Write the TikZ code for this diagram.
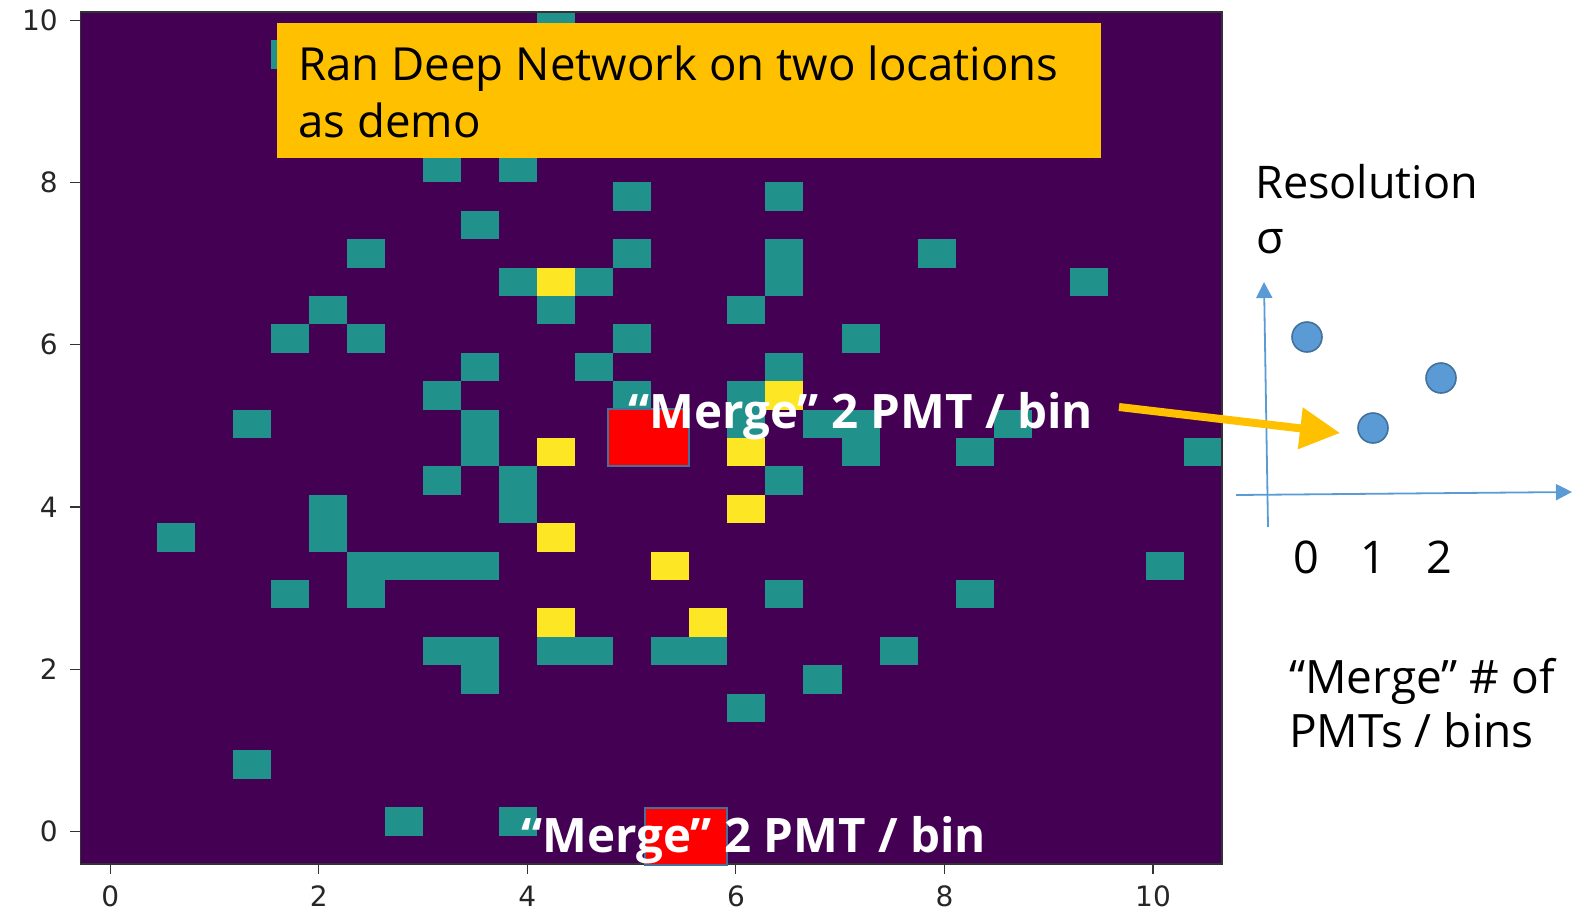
\documentclass[tikz,border=0pt]{standalone}
\usepackage{fontspec}
\setmainfont{Open Sans}
\newfontfamily\tickfont{DejaVu Sans}
\usetikzlibrary{arrows.meta}

\definecolor{vpurple}{HTML}{440154}
\definecolor{vteal}{HTML}{21918C}
\definecolor{vyellow}{HTML}{FDE725}
\definecolor{boxyellow}{HTML}{FFC000}
\definecolor{axisblue}{HTML}{5B9BD5}
\definecolor{dotedge}{HTML}{41719C}
\definecolor{binedge}{HTML}{4A6E96}

\tikzset{
  tickmark/.style={draw=black!80, line width=1.1},
  ticklabel/.style={inner sep=0, text=black!85, font=\tickfont\fontsize{28}{28}\selectfont},
  boxtext/.style={anchor=base west, inner sep=0, font=\fontsize{45.6}{57}\selectfont},
  sidetext/.style={anchor=base west, inner sep=0, font=\fontsize{45}{55}\selectfont},
  mergetext/.style={anchor=base west, inner sep=0, text=white, font=\bfseries\fontsize{47.5}{50}\selectfont},
  bin/.style={fill=red, draw=binedge, line width=1.6},
  axisline/.style={draw=axisblue, line width=1.8, -{Triangle[length=16pt,width=16pt]}},
  dot/.style={circle, minimum size=30, inner sep=0, fill=axisblue, draw=dotedge, line width=1.6},
  bigarrow/.style={draw=boxyellow, line width=8, -{Triangle[length=40pt,width=40pt]}}
}

\begin{document}
\begin{tikzpicture}[x=1pt, y=-1pt]
\useasboundingbox (0,0) rectangle (1588,913);

% heat map background and cells (30 x 30 grid)
\fill[vpurple] (80.7,12) rectangle (1222,864);
\foreach \c/\r in {12/0, 5/1, 9/5, 11/5, 14/6, 18/6, 10/7,
  7/8, 14/8, 18/8, 22/8, 11/9, 13/9, 18/9, 26/9,
  6/10, 12/10, 17/10, 5/11, 7/11, 14/11, 20/11,
  10/12, 13/12, 18/12, 9/13, 14/13, 17/13,
  4/14, 10/14, 17/14, 19/14, 20/14, 24/14,
  10/15, 20/15, 23/15, 29/15, 9/16, 11/16, 18/16,
  6/17, 11/17, 2/18, 6/18,
  7/19, 8/19, 9/19, 10/19, 28/19, 5/20, 7/20, 18/20, 23/20,
  9/22, 10/22, 12/22, 13/22, 15/22, 16/22, 21/22,
  10/23, 19/23, 17/24, 4/26, 8/28, 11/28}
  \fill[vteal] ({80.7+38.04*\c},{12+28.4*\r}) rectangle ++(38.04,28.4);
\foreach \c/\r in {12/9, 18/13, 12/15, 17/15, 17/17, 12/18, 15/19, 12/21, 16/21}
  \fill[vyellow] ({80.7+38.04*\c},{12+28.4*\r}) rectangle ++(38.04,28.4);
\draw[black!80, line width=1.2] (80.7,12) rectangle (1222,864);

% axis ticks and labels
\foreach \v/\yy in {10/20.3, 8/182.5, 6/344.8, 4/507, 2/669.3, 0/831.5} {
  \draw[tickmark] (70,\yy) -- (80.7,\yy);
  \node[ticklabel, anchor=east] (ytick\v) at (58,\yy) {\v};
}
\foreach \v/\xx in {0/110.3, 2/318.8, 4/527.4, 6/735.9, 8/944.5, 10/1153} {
  \draw[tickmark] (\xx,864) -- (\xx,874);
  \node[ticklabel, anchor=base] (xtick\v) at (\xx,906) {\v};
}

% merged bins
\node[bin, anchor=north west, minimum width=81, minimum height=57] (binA) at (607,408) {};
\node[bin, anchor=north west, minimum width=82, minimum height=57] (binB) at (644,807) {};

% title box
\node[fill=boxyellow, anchor=north west, inner sep=0, minimum width=824, minimum height=135] (demobox) at (277,23) {};
\node[boxtext] (demo1) at (298,80) {Ran Deep Network on two locations};
\node[boxtext] (demo2) at (298,137) {as demo};

% labels on the map
\node[mergetext] (mergeA) at (628,428) {“Merge” 2 PMT / bin};
\node[mergetext] (mergeB) at (521,852) {“Merge” 2 PMT / bin};

% resolution sketch
\coordinate (ybot) at (1268,527);
\coordinate (ytop) at (1264,282);
\coordinate (xleft) at (1236,495);
\coordinate (xright) at (1572,492);
\draw[axisline] (ybot) -- (ytop);
\draw[axisline] (xleft) -- (xright);

\node[sidetext] (res) at (1255,198) {Resolution};
\node[sidetext] (sigma) at (1256,253) {σ};

\node[dot] (p0) at (1307,337) {};
\node[dot] (p1) at (1373,428) {};
\node[dot] (p2) at (1441,378) {};

\node[sidetext, anchor=base] (n0) at (1306,573) {0};
\node[sidetext, anchor=base] (n1) at (1373,573) {1};
\node[sidetext, anchor=base] (n2) at (1439,573) {2};

\node[sidetext, font=\fontsize{46}{55}\selectfont] (xl1) at (1289,693) {“Merge” \# of};
\node[sidetext, font=\fontsize{46}{55}\selectfont] (xl2) at (1289,747) {PMTs / bins};

% pointer from the merged-bin label to the chosen point
\coordinate (arrtail) at (1119,407);
\coordinate (arrtip) at (1340,433);
\draw[bigarrow] (arrtail) -- (arrtip);
\end{tikzpicture}
\end{document}
